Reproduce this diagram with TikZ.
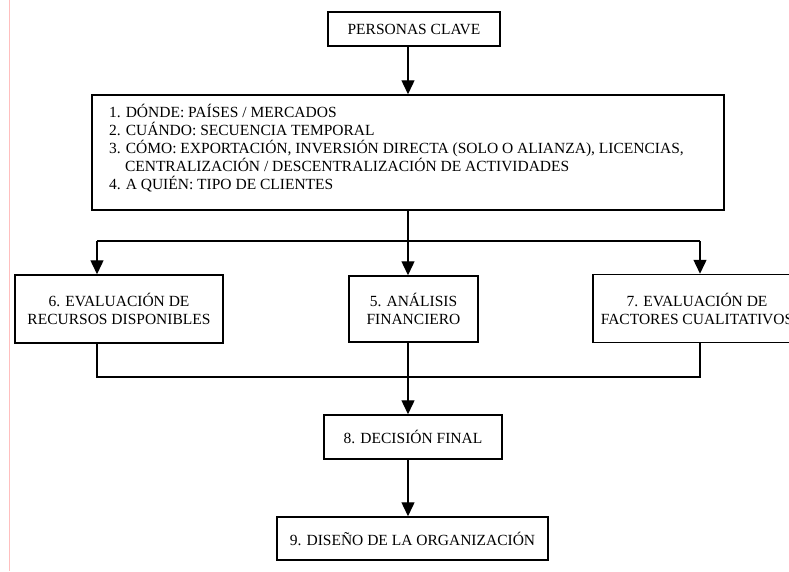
\documentclass[tikz,border=0pt]{standalone}
\usepackage{fontspec}
\setmainfont{Liberation Serif}
\usetikzlibrary{arrows.meta}

\begin{document}
\begin{tikzpicture}[x=1pt,y=-1pt,
        box/.style={draw, rectangle, line width=1.5pt, inner sep=0pt, align=center, font=\fontsize{15.5}{18}\selectfont},
        arr/.style={-{Triangle[width=13pt,length=14pt]}, line width=1.4pt},
        link/.style={line width=1.4pt}]
        \useasboundingbox (0,0) rectangle (789,571);
        \clip (0,0) rectangle (789,571);
        \draw[red!25, line width=0.8pt] (9,0) -- (9,571);

        % Key people and decisions
        \node[box, minimum width=172pt, minimum height=34pt] (personas) at (414,29) {PERSONAS CLAVE};
        \node[box, align=left, minimum width=632pt, minimum height=115pt] (dims) at (408,152.5) {\parbox[c][115pt][t]{598pt}{\lineskiplimit=-100pt
            \rule{0pt}{22pt}1. DÓNDE: PAÍSES / MERCADOS\\
            2. CUÁNDO: SECUENCIA TEMPORAL\\
            3. CÓMO: EXPORTACIÓN, INVERSIÓN DIRECTA (SOLO O ALIANZA), LICENCIAS,\\
            \hspace*{16pt}CENTRALIZACIÓN / DESCENTRALIZACIÓN DE ACTIVIDADES\\
            4. A QUIÉN: TIPO DE CLIENTES}};

        % Evaluations
        \node[box, minimum width=208pt, minimum height=68pt] (recursos) at (119,309) {6. EVALUACIÓN DE\\RECURSOS DISPONIBLES};
        \node[box, minimum width=129pt, minimum height=66pt] (financiero) at (413.5,309) {5. ANÁLISIS\\FINANCIERO};
        \node[box, minimum width=208pt, minimum height=68pt] (cualitativos) at (697,308.5) {7. EVALUACIÓN DE\\FACTORES CUALITATIVOS};

        % Decision and design
        \node[box, minimum width=178pt, minimum height=44pt] (decision) at (413,437) {8. DECISIÓN FINAL};
        \node[box, minimum width=271pt, minimum height=43pt] (organizacion) at (412.5,538.5) {9. DISEÑO DE LA ORGANIZACIÓN};

        \coordinate (split) at (408,241);
        \coordinate (splitl) at (97,241);
        \coordinate (splitr) at (700,241);
        \coordinate (joinl) at (97,377);
        \coordinate (joinr) at (700,377);

        \draw[arr] (personas.south -| split) -- (split |- dims.north);
        \draw[link] (dims.south -| split) -- (split);
        \draw[link] (splitl) -- (splitr);
        \draw[arr] (splitl) -- (splitl |- recursos.north);
        \draw[arr] (split) -- (split |- financiero.north);
        \draw[arr] (splitr) -- (splitr |- cualitativos.north);
        \draw[link] (joinl |- recursos.south) -- (joinl) -- (joinr) -- (joinr |- cualitativos.south);
        \draw[arr] (split |- financiero.south) -- (split |- decision.north);
        \draw[arr] (split |- decision.south) -- (split |- organizacion.north);
    \end{tikzpicture}
\end{document}
